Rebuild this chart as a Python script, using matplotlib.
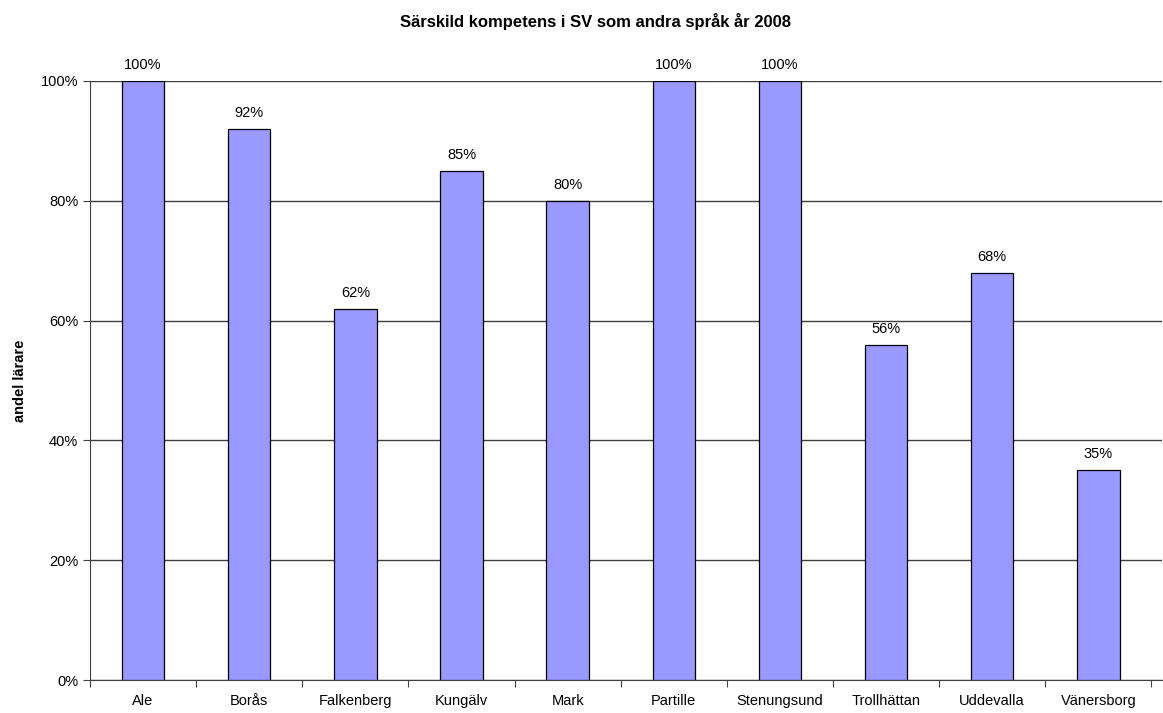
import matplotlib
matplotlib.use("Agg")
import matplotlib.pyplot as plt
from matplotlib.ticker import PercentFormatter

plt.rcParams['font.family'] = ['Liberation Sans', 'DejaVu Sans']

kommuner = ["Ale", "Borås", "Falkenberg", "Kungälv", "Mark", "Partille",
            "Stenungsund", "Trollhättan", "Uddevalla", "Vänersborg"]
andel = [100, 92, 62, 85, 80, 100, 100, 56, 68, 35]
yticks = [0, 20, 40, 60, 80, 100]

fig = plt.figure(figsize=(11.63, 7.13), dpi=100)
ax = fig.add_axes([90 / 1163, 33 / 713, 1072 / 1163, 599 / 713])

x = range(len(kommuner))
bars = ax.bar(x, andel, width=0.4, color="#9999ff", edgecolor="black",
              linewidth=0.9, zorder=3)

for b, v in zip(bars, andel):
    ax.text(b.get_x() + b.get_width() / 2, v + 1.5, f"{v}%",
            ha="center", va="bottom", fontsize=10.5)

ax.set_xlim(-0.5, 9.6)
ax.set_ylim(0, 100)
ax.set_yticks(yticks)
ax.yaxis.set_major_formatter(PercentFormatter(decimals=0))
ax.yaxis.grid(True, color="#404040", linewidth=1.0, zorder=0)

# tick marks between categories, labels under bar centres
ax.set_xticks([i + 0.5 for i in range(-1, len(kommuner))])
ax.set_xticklabels([])
ax.set_xticks(list(x), minor=True)
ax.set_xticklabels(kommuner, minor=True)
ax.tick_params(axis="x", which="minor", length=0, pad=10, labelsize=10.5)
ax.tick_params(axis="x", which="major", length=5, direction="out", color="#404040")
ax.tick_params(axis="y", length=5, labelsize=10.5, color="#404040")

for s in ["top", "right"]:
    ax.spines[s].set_visible(False)
ax.spines["left"].set_color("#404040")
ax.spines["bottom"].set_color("#404040")

ax.set_ylabel("andel lärare", fontweight="bold", fontsize=10.5, labelpad=10)
fig.text(595 / 1163, 1 - 22 / 713, "Särskild kompetens i SV som andra språk år 2008",
         ha="center", va="center", fontweight="bold", fontsize=12)

fig.savefig("out.png", dpi=100)
